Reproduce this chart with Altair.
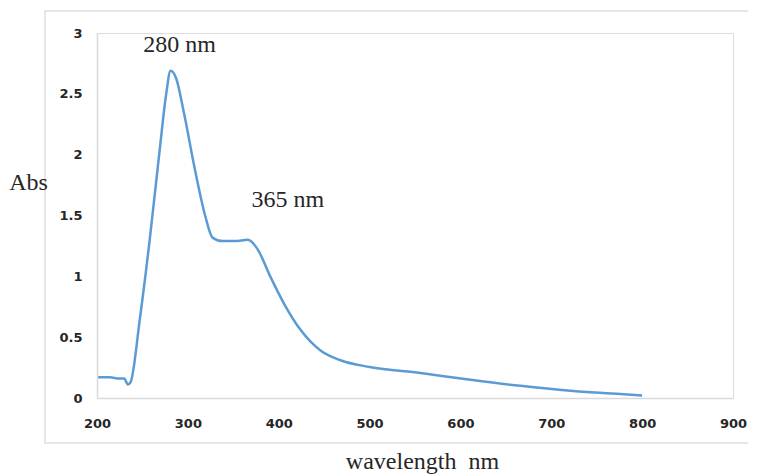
import altair as alt
import pandas as pd

wavelength = [200, 214, 225, 230, 234, 237, 247, 258, 269, 276, 281, 287, 295, 308, 319, 327,
              338, 352, 366, 377, 390, 407, 424, 446, 468, 500, 556, 611, 666, 721, 776, 800]
absorbance = [0.17, 0.17, 0.16, 0.16, 0.11, 0.13, 0.64, 1.30, 2.04, 2.49, 2.69, 2.63, 2.37, 1.87,
              1.50, 1.32, 1.29, 1.29, 1.30, 1.22, 1.01, 0.76, 0.56, 0.39, 0.31, 0.255, 0.205,
              0.15, 0.10, 0.06, 0.033, 0.02]

ann_text = ["280 nm", "365 nm"]
ann_x = [291, 410]
ann_y = [2.90, 1.63]

x_ticks = [200, 300, 400, 500, 600, 700, 800, 900]
y_ticks = [0, 0.5, 1, 1.5, 2, 2.5, 3]

W, H = 636, 365

df = pd.DataFrame({"wl": wavelength, "abs": absorbance})
ann = pd.DataFrame({"t": ann_text, "x": ann_x, "y": ann_y})

xscale = alt.Scale(domain=[200, 900], nice=False)
yscale = alt.Scale(domain=[0, 3], nice=False)

label_font = "DejaVu Sans"
serif = "Liberation Serif"

border = alt.Chart(pd.DataFrame({"a": [0]})).mark_rect(
    fill=None, stroke="#dedede", strokeWidth=1.5
).encode(
    x=alt.value(-52), x2=alt.value(700), y=alt.value(-22), y2=alt.value(410)
)

line = alt.Chart(df).mark_line(
    color="#5B9BD5", strokeWidth=2.5, interpolate="monotone"
).encode(
    x=alt.X("wl:Q", scale=xscale, axis=alt.Axis(
        values=x_ticks, grid=False, ticks=False, labelFlush=False, zindex=1,
        domainColor="#d9d9d9", domainWidth=1.5, labelFont=label_font, labelFontSize=13,
        labelFontWeight="bold", labelColor="#262626", labelPadding=19,
        title="wavelength\u00a0 nm", titleFont=serif, titleFontSize=24,
        titleFontWeight="normal", titleColor="#262626", titleX=325, titleY=70,
        titleBaseline="alphabetic", titleAlign="center")),
    y=alt.Y("abs:Q", scale=yscale, axis=alt.Axis(
        values=y_ticks, grid=False, ticks=False, labelExpr="datum.value", zindex=1,
        domainColor="#d9d9d9", domainWidth=1.5, labelFont=label_font, labelFontSize=13,
        labelFontWeight="bold", labelColor="#262626", labelPadding=15,
        title="Abs", titleFont=serif, titleFontSize=24,
        titleFontWeight="normal", titleColor="#262626", titleAngle=0,
        titleX=-69, titleY=156, titleAlign="center", titleBaseline="alphabetic"))
)

texts = alt.Chart(ann).mark_text(
    font=serif, fontSize=24, color="#262626", baseline="middle", align="center"
).encode(
    x=alt.X("x:Q", scale=xscale), y=alt.Y("y:Q", scale=yscale), text="t:N"
)

chart = alt.layer(border, line, texts).properties(
    width=W, height=H,
    autosize=alt.AutoSizeParams(type="none"),
    padding={"left": 89, "top": 25, "right": 15, "bottom": 76},
).configure_view(stroke=None).configure(background="white")

chart.save("out.html", embed_options={"renderer": "svg", "actions": False})
